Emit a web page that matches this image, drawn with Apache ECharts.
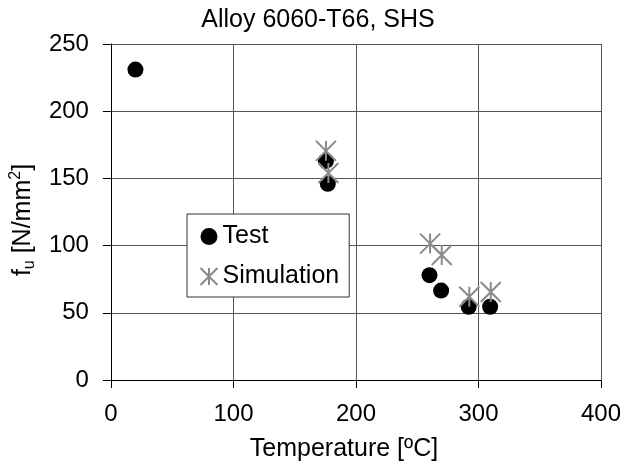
<!DOCTYPE html>
<html>
<head>
<meta charset="utf-8">
<script src="https://cdn.jsdelivr.net/npm/echarts@6/dist/echarts.min.js"></script>
<style>
  html, body { margin: 0; padding: 0; background: #fff; }
  #chart { width: 629px; height: 468px; }
</style>
</head>
<body>
<div id="chart"></div>
<script>
// Ultimate strength vs. temperature, alloy 6060-T66 square hollow sections
const testTemp = [20, 175.5, 177, 260, 269.5, 292, 309.5];
const testFu   = [231, 163, 146, 78, 66.5, 54.5, 54.5];
const simTemp  = [175.5, 177.5, 260.5, 270, 292.5, 310];
const simFu    = [170.5, 154, 101.5, 93, 62, 65.5];
const xTicks = [0, 100, 200, 300, 400];
const yTicks = [0, 50, 100, 150, 200, 250];

const FONT = '"Liberation Sans", Arial, sans-serif';
// asterisk marker: an X crossed by a vertical stroke
const starPath = 'path://M0,0 L20,20 M20,0 L0,20 M10,0 L10,20';

const chart = echarts.init(document.getElementById('chart'), null, { renderer: 'canvas' });

const zip = (xs, ys) => xs.map((x, i) => [x, ys[i]]);

chart.setOption({
  animation: false,
  backgroundColor: '#fff',
  title: {
    text: 'Alloy 6060-T66, SHS',
    left: 318, top: 8, textAlign: 'center',
    padding: 0,
    textStyle: { fontFamily: FONT, fontSize: 25, fontWeight: 'normal', color: '#000', lineHeight: 25 }
  },
  grid: { left: 107, right: 28, top: 44, bottom: 88 },
  legend: {
    orient: 'vertical',
    left: 187, top: 214,
    padding: [10, 10, 8, 11],
    itemGap: 15,
    itemWidth: 17, itemHeight: 17,
    borderColor: '#333', borderWidth: 1,
    backgroundColor: '#fff',
    textStyle: { fontFamily: FONT, fontSize: 25, color: '#000', lineHeight: 25 },
    data: ['Test', 'Simulation']
  },
  xAxis: {
    type: 'value', min: xTicks[0], max: xTicks[xTicks.length - 1], interval: 100,
    name: 'Temperature [ºC]', nameLocation: 'middle', nameGap: 57,
    nameTextStyle: { fontFamily: FONT, fontSize: 25, color: '#000', padding: [0, 24, 0, 0] },
    axisLine: { show: true, onZero: false, lineStyle: { color: '#000', width: 1 } },
    axisTick: { show: true, inside: false, length: 8, lineStyle: { color: '#000' } },
    axisLabel: { fontFamily: FONT, fontSize: 24, color: '#000', margin: 22 },
    splitLine: { show: true, lineStyle: { color: '#555', width: 1 } }
  },
  yAxis: {
    type: 'value', min: yTicks[0], max: yTicks[yTicks.length - 1], interval: 50,
    name: '{a|f}{s|u}{a| [N/mm}{p|2}{a|]}', nameLocation: 'middle', nameGap: 60,
    nameTextStyle: {
      fontFamily: FONT, fontSize: 25, color: '#000', padding: [0, 16, 0, 0],
      rich: {
        a: { fontFamily: FONT, fontSize: 25, color: '#000', lineHeight: 30, verticalAlign: 'middle' },
        s: { fontFamily: FONT, fontSize: 16, color: '#000', lineHeight: 30, verticalAlign: 'bottom' },
        p: { fontFamily: FONT, fontSize: 16, color: '#000', lineHeight: 30, verticalAlign: 'top' }
      }
    },
    axisLine: { show: true, onZero: false, lineStyle: { color: '#000', width: 1 } },
    axisTick: { show: true, inside: false, length: 8, lineStyle: { color: '#000' } },
    axisLabel: { fontFamily: FONT, fontSize: 24, color: '#000', margin: 22 },
    splitLine: { show: true, lineStyle: { color: '#555', width: 1 } }
  },
  series: [
    {
      name: 'Test', type: 'scatter',
      symbol: 'circle', symbolSize: 16,
      itemStyle: { color: '#000', opacity: 1 },
      data: zip(testTemp, testFu), z: 2
    },
    {
      name: 'Simulation', type: 'scatter',
      symbol: starPath, symbolSize: 20,
      itemStyle: { color: 'none', borderColor: '#8a8a8a', borderWidth: 2, opacity: 1 },
      data: zip(simTemp, simFu), z: 3
    }
  ]
});
</script>
</body>
</html>
